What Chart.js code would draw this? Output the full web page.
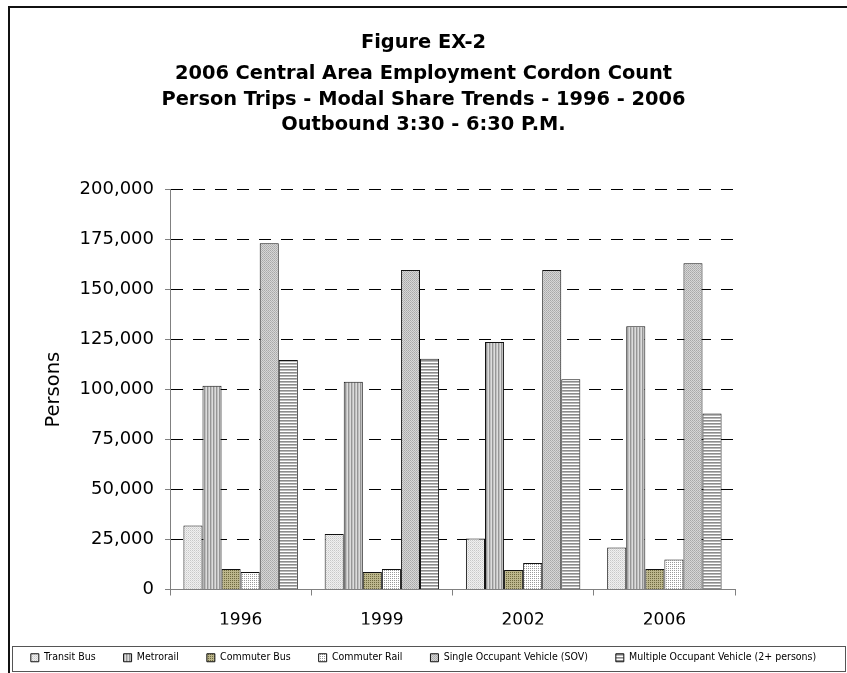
<!DOCTYPE html>
<html>
<head>
<meta charset="utf-8">
<title>Figure EX-2</title>
<script src="https://cdn.jsdelivr.net/npm/chart.js@4.4.1/dist/chart.umd.min.js"></script>
<style>
  html, body { margin: 0; padding: 0; background: #fff; }
  #wrap { width: 847px; height: 673px; }
</style>
</head>
<body>
<div id="wrap"><canvas id="trips" width="847" height="673"></canvas></div>
<script>
// values (persons, outbound 3:30 - 6:30 PM)
const years = ['1996', '1999', '2002', '2006'];
const modeNames = ['Transit Bus', 'Metrorail', 'Commuter Bus', 'Commuter Rail',
  'Single Occupant Vehicle (SOV)', 'Multiple Occupant Vehicle (2+ persons)'];
const transitBus = [32000, 27800, 25500, 21000];
const metrorail = [102000, 104000, 123800, 131700];
const commuterBus = [10300, 8700, 9800, 10300];
const commuterRail = [8800, 10300, 13200, 15000];
const sov = [173300, 159800, 159800, 163200];
const mov = [114800, 115500, 105200, 88000];
const yMin = 0, yMax = 200000, yStep = 25000;

const canvas = document.getElementById('trips');
const ctx = canvas.getContext('2d');

// little tiles to mimic the excel fill patterns
function makePattern(w, h, base, px) {
  const c = document.createElement('canvas');
  c.width = w; c.height = h;
  const g = c.getContext('2d');
  g.fillStyle = base;
  g.fillRect(0, 0, w, h);
  px.forEach(p => { g.fillStyle = p[2]; g.fillRect(p[0], p[1], 1, 1); });
  return ctx.createPattern(c, 'repeat');
}

const fills = [
  makePattern(2, 2, '#f0f0f0', [[0, 0, '#c8c8c8'], [1, 1, '#dcdcdc']]),
  makePattern(3, 1, '#dcdcdc', [[0, 0, '#969696'], [1, 0, '#c0c0c0']]),
  makePattern(2, 2, '#bcb68c', [[0, 0, '#6f6a40']]),
  makePattern(2, 2, '#ffffff', [[0, 0, '#9a9a9a']]),
  makePattern(2, 2, '#d6d6d6', [[0, 0, '#a8a8a8'], [1, 1, '#b4b4b4']]),
  makePattern(1, 3, '#ffffff', [[0, 0, '#8c8c8c'], [0, 1, '#b8b8b8']])
];
const series = [transitBus, metrorail, commuterBus, commuterRail, sov, mov];

const framePlugin = {
  id: 'frame',
  afterDraw(chart) {
    const c = chart.ctx;
    c.save();
    c.strokeStyle = '#111';
    c.lineWidth = 2;
    c.beginPath();
    c.moveTo(9, chart.height);
    c.lineTo(9, 7);
    c.lineTo(chart.width, 7);
    c.stroke();
    c.lineWidth = 1;
    c.strokeStyle = '#555';
    c.strokeRect(12.5, 646.5, 833, 25);
    c.restore();
  }
};

new Chart(ctx, {
  type: 'bar',
  data: {
    labels: years,
    datasets: series.map((vals, i) => ({
      label: modeNames[i],
      data: vals,
      backgroundColor: fills[i],
      borderColor: '#111',
      borderWidth: 1,
      categoryPercentage: 0.81,
      barPercentage: 1.0
    }))
  },
  options: {
    responsive: false,
    animation: false,
    layout: { padding: 0 },
    plugins: {
      title: {
        display: true,
        text: 'Figure EX-2',
        color: '#000',
        font: { family: 'DejaVu Sans', size: 19.4, weight: 'bold', lineHeight: 1.2 },
        padding: { top: 31, bottom: 7 }
      },
      subtitle: {
        display: true,
        text: ['2006 Central Area Employment Cordon Count',
          'Person Trips - Modal Share Trends - 1996 - 2006',
          'Outbound 3:30 - 6:30 P.M.'],
        color: '#000',
        font: { family: 'DejaVu Sans', size: 19.4, weight: 'bold', lineHeight: '25.5px' },
        padding: { top: 0, bottom: 52 }
      },
      legend: {
        position: 'bottom',
        labels: {
          color: '#000',
          font: { family: "'Liberation Sans Narrow', 'DejaVu Sans Condensed', sans-serif", size: 10.5 },
          boxWidth: 8,
          boxHeight: 8,
          padding: 28
        }
      },
      tooltip: { enabled: false }
    },
    scales: {
      x: {
        grid: { display: true, drawOnChartArea: false, drawTicks: true, tickLength: 6, tickColor: '#808080', offset: true },
        border: { color: '#808080', width: 1 },
        ticks: { color: '#000', font: { family: 'DejaVu Sans', size: 17 }, padding: 15 },
        afterFit: s => { s.height = 35; }
      },
      y: {
        min: yMin,
        max: yMax,
        ticks: {
          stepSize: yStep,
          color: '#000',
          font: { family: 'DejaVu Sans', size: 18 },
          padding: 11,
          callback: v => v.toLocaleString('en-US')
        },
        grid: { color: '#000', lineWidth: 1, tickLength: 5, tickColor: '#808080', tickBorderDash: [] },
        border: { color: '#808080', width: 1, dash: [12, 10] },
        title: {
          display: true,
          text: 'Persons',
          color: '#000',
          font: { family: 'DejaVu Sans', size: 19.5 },
          padding: { top: 42, bottom: 0 }
        },
        afterFit: s => { s.width = 170; }
      },
      // empty right-hand axis only to keep the plot narrower than the page
      side: {
        position: 'right',
        display: true,
        grid: { display: false },
        border: { display: false },
        ticks: { display: false },
        afterFit: s => { s.width = 112; }
      }
    }
  },
  plugins: [framePlugin]
});
</script>
</body>
</html>
